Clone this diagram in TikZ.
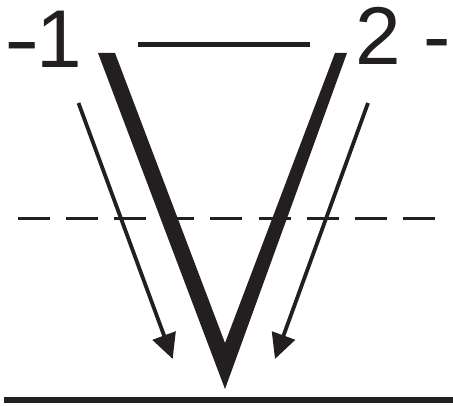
\documentclass[tikz,border=0pt]{standalone}
\usepackage{fontspec}
\setmainfont{Liberation Sans}
\usetikzlibrary{arrows.meta}
\definecolor{ink}{HTML}{231F20}
\begin{document}
\begin{tikzpicture}[x=1pt,y=-1pt,
  arrowstyle/.style={draw=ink, line width=3.8pt, -{Triangle[length=25pt,width=24pt]}},
  labeltext/.style={text=ink, inner sep=0pt, font=\fontsize{82pt}{82pt}\selectfont},
  rule/.style={draw=ink}]
\useasboundingbox (0,0) rectangle (453,406);
% dashed line
\draw[rule, line width=3pt, dash pattern=on 32pt off 16.1pt] (18,219) -- (435,219);
% the V
\fill[ink] (98,53) -- (115,53) -- (225,343) -- (335,53) -- (347,53) -- (225,389) -- cycle;
% top line
\draw[rule, line width=5pt] (138,45) -- (310,45);
% bottom line
\draw[rule, line width=6.5pt] (4,400) -- (453,400);
% arrows
\coordinate (a1s) at (78.5,103);
\coordinate (a1e) at (172.7,359);
\coordinate (a2s) at (368,103);
\coordinate (a2e) at (275,359);
\draw[arrowstyle] (a1s) -- (a1e);
\draw[arrowstyle] (a2s) -- (a2e);
% labels
\node[labeltext, anchor=base west] (m1) at (4,68) {\scalebox{1.3}[1]{-}\kern-3pt 1};
\node[labeltext, anchor=base west] (t2) at (355,65) {2 -};
\end{tikzpicture}
\end{document}
